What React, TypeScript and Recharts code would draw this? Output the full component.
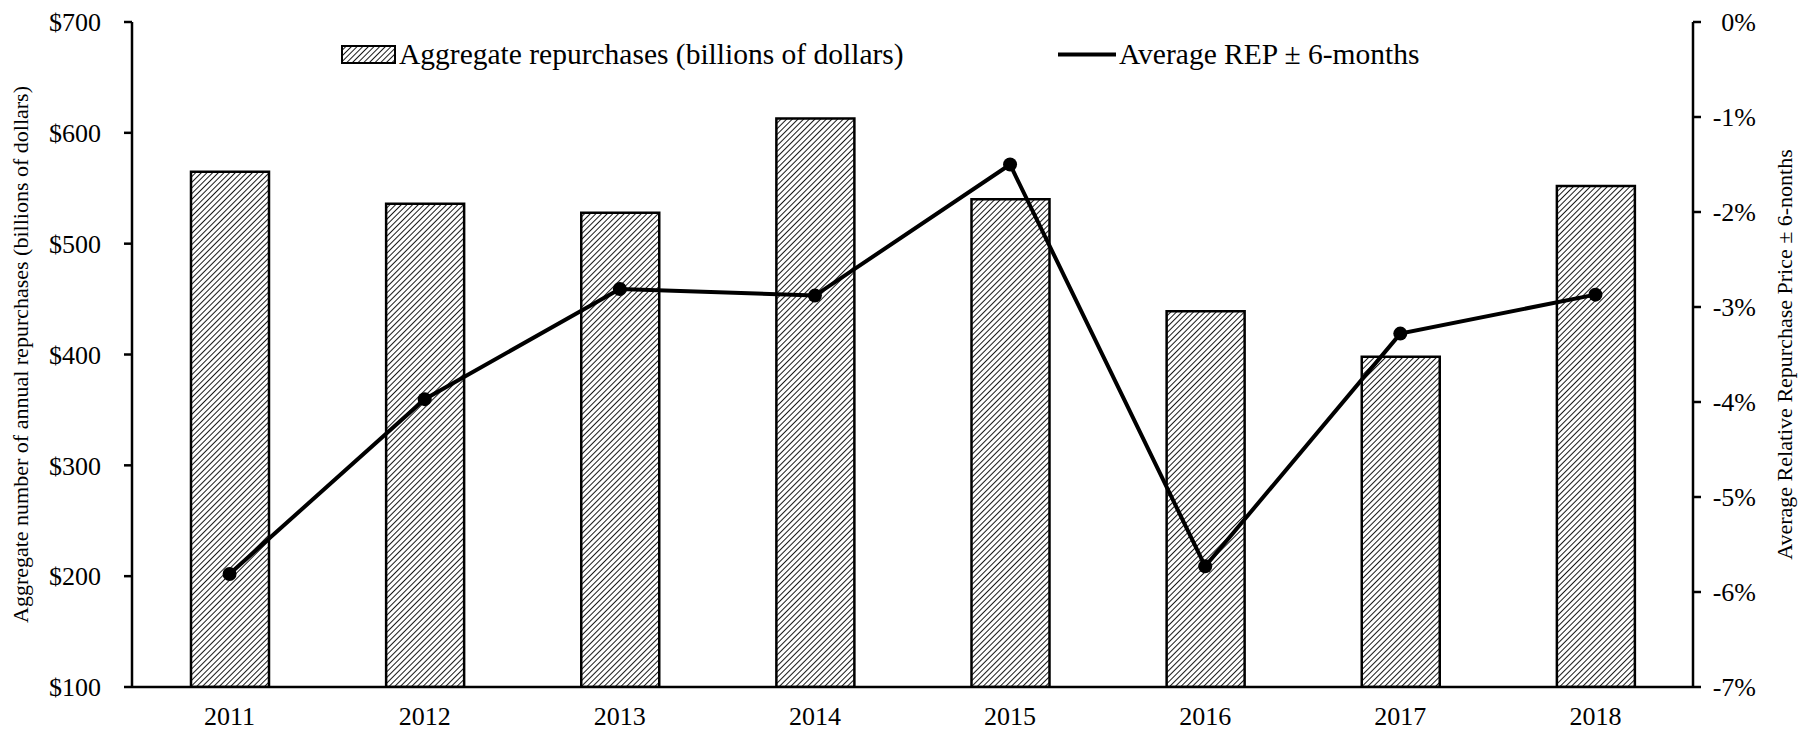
import React from 'react';
import { ComposedChart, Bar, Line, XAxis, YAxis, Legend } from 'recharts';

const YEARS = ['2011', '2012', '2013', '2014', '2015', '2016', '2017', '2018'];
const REPURCHASES = [565, 536, 528, 613, 540, 439, 398, 552];
const AVG_REP = [-5.81, -3.97, -2.81, -2.88, -1.5, -5.73, -3.28, -2.87];
const LEFT_TICKS = [100, 200, 300, 400, 500, 600, 700];
const RIGHT_TICKS = [-7, -6, -5, -4, -3, -2, -1, 0];

const data = YEARS.map((year, i) => ({ year, repurchases: REPURCHASES[i], rep: AVG_REP[i] }));

const FONT = '"Liberation Serif", "Times New Roman", serif';
const W = 1800;
const H = 731;

const HatchDefs = ({ id }: { id: string }) => (
    <defs>
        <pattern id={id} width={4} height={4} patternUnits="userSpaceOnUse" patternTransform="rotate(45)">
            <rect width={4} height={4} fill="#fff" />
            <line x1={0} y1={0} x2={0} y2={4} stroke="#000" strokeWidth={1.8} />
        </pattern>
    </defs>
);

const AxisTitle = ({ viewBox, value, dx }: any) => {
    const cx = viewBox.x + dx;
    const cy = viewBox.y + viewBox.height / 2;
    return (
        <text x={cx} y={cy} transform={`rotate(-90 ${cx} ${cy})`} textAnchor="middle" dominantBaseline="central"
            fontFamily={FONT} fontSize={22} fill="#000">
            {value}
        </text>
    );
};

const RightTick = ({ x, y, payload }: any) => (
    <text x={x + 55} y={y} dy="0.35em" textAnchor="end" fontFamily={FONT} fontSize={26} fill="#000">
        {`${payload.value}%`}
    </text>
);

const LegendContent = () => (
    <div style={{ position: 'relative', width: W, height: 36, fontFamily: FONT, fontSize: 29.5, color: '#000' }}>
        <div style={{ position: 'absolute', left: 341, top: 0, display: 'flex', alignItems: 'center', whiteSpace: 'nowrap' }}>
            <svg width={55} height={19}>
                <HatchDefs id="hatchLegend" />
                <rect x={1} y={1} width={53} height={17} fill="url(#hatchLegend)" stroke="#000" strokeWidth={2} />
            </svg>
            <span style={{ marginLeft: 3 }}>Aggregate repurchases (billions of dollars)</span>
        </div>
        <div style={{ position: 'absolute', left: 1058, top: 0, display: 'flex', alignItems: 'center', whiteSpace: 'nowrap' }}>
            <svg width={58} height={19}>
                <line x1={0} y1={9.5} x2={58} y2={9.5} stroke="#000" strokeWidth={4} />
            </svg>
            <span style={{ marginLeft: 3 }}>Average REP ± 6-months</span>
        </div>
    </div>
);

export default function App() {
    return (
        <div style={{ position: 'absolute', left: 0, top: 0, width: W, height: H, background: '#fff' }}>
            <svg width={0} height={0} style={{ position: 'absolute' }}>
                <HatchDefs id="hatchBar" />
            </svg>
            <ComposedChart width={W} height={H} data={data} margin={{ top: 22, right: 0, bottom: 14, left: 0 }}>
                <XAxis
                    dataKey="year"
                    height={30}
                    tickLine={false}
                    tickSize={0}
                    tickMargin={20}
                    axisLine={{ stroke: '#000', strokeWidth: 2.5 }}
                    tick={{ fill: '#000', fontSize: 26, fontFamily: FONT }}
                />
                <YAxis
                    yAxisId="left"
                    width={132}
                    domain={[100, 700]}
                    ticks={LEFT_TICKS}
                    allowDataOverflow
                    tickSize={8}
                    tickMargin={23}
                    tickFormatter={(v: number) => `$${v}`}
                    axisLine={{ stroke: '#000', strokeWidth: 2.5 }}
                    tickLine={{ stroke: '#000', strokeWidth: 2.5 }}
                    tick={{ fill: '#000', fontSize: 26, fontFamily: FONT }}
                    label={{ content: (p: any) => <AxisTitle {...p} dx={20} value="Aggregate number of annual repurchases (billions of dollars)" /> }}
                />
                <YAxis
                    yAxisId="right"
                    orientation="right"
                    width={107}
                    domain={[-7, 0]}
                    ticks={RIGHT_TICKS}
                    allowDataOverflow
                    tickSize={8}
                    tickMargin={0}
                    axisLine={{ stroke: '#000', strokeWidth: 2.5 }}
                    tickLine={{ stroke: '#000', strokeWidth: 2.5 }}
                    tick={<RightTick />}
                    label={{ content: (p: any) => <AxisTitle {...p} dx={91} value="Average Relative Repurchase Price ± 6-nonths" /> }}
                />
                <Legend
                    layout="horizontal"
                    verticalAlign="middle"
                    align="center"
                    wrapperStyle={{ top: 38, left: 0, width: W }}
                    content={<LegendContent />}
                />
                <Bar
                    yAxisId="left"
                    dataKey="repurchases"
                    barSize={78}
                    fill="url(#hatchBar)"
                    stroke="#000"
                    strokeWidth={2.5}
                    isAnimationActive={false}
                />
                <Line
                    yAxisId="right"
                    dataKey="rep"
                    type="linear"
                    stroke="#000"
                    strokeWidth={4}
                    dot={{ r: 7, fill: '#000', stroke: '#000', strokeWidth: 0 }}
                    activeDot={false}
                    isAnimationActive={false}
                />
            </ComposedChart>
        </div>
    );
}
